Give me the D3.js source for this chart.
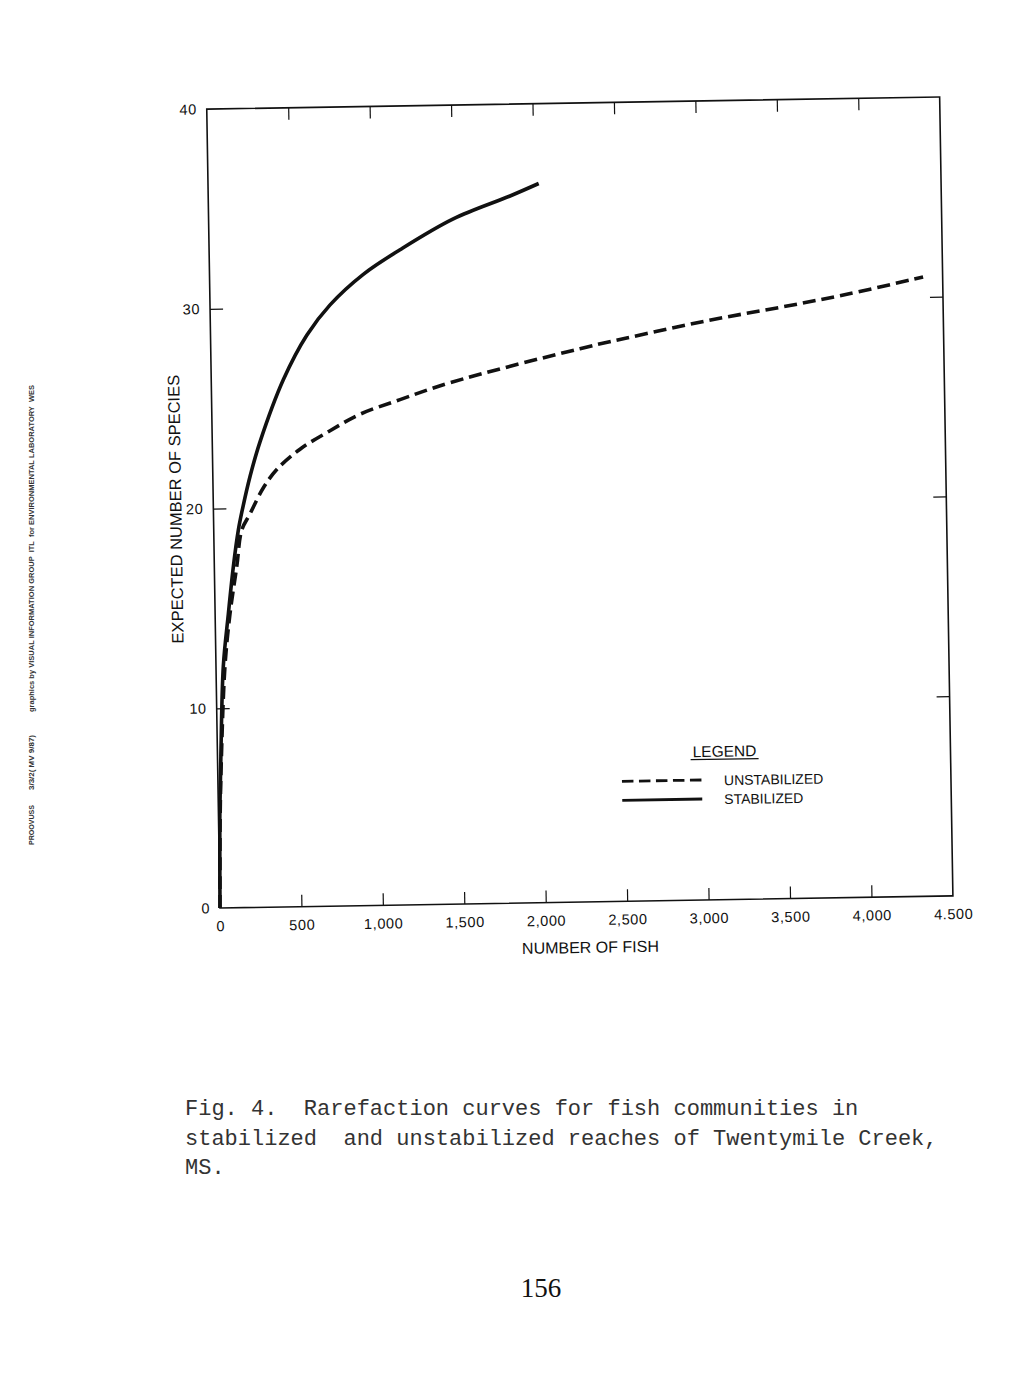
<!DOCTYPE html>
<html>
<head>
<meta charset="utf-8">
<script src="https://cdn.jsdelivr.net/npm/d3@7"></script>
<style>
  body { margin: 0; background: #fff; }
  svg { display: block; }
</style>
</head>
<body>
<div id="chart"></div>
<script>
// Rarefaction curves - Twentymile Creek, MS (Fig. 4)

// Axis ticks
const xTicks = [0, 500, 1000, 1500, 2000, 2500, 3000, 3500, 4000, 4500];
const xTickLabels = ["0", "500", "1,000", "1,500", "2,000", "2,500", "3,000", "3,500", "4,000", "4.500"];
const yTicks = [0, 10, 20, 30, 40];
const yTickLabels = ["0", "10", "20", "30", "40"];

// Stabilized reach (solid line)
const stabFish    = [0, 3, 8, 20, 45, 81, 117, 151, 180, 229, 293, 443, 591, 737, 944, 1172, 1502, 1853, 2030];
const stabSpecies = [0, 2, 4.5, 7.4, 12.1, 14.7, 17.1, 18.9, 20.0, 21.6, 23.3, 26.4, 28.6, 30.1, 31.6, 32.8, 34.3, 35.4, 36.0];

// Unstabilized reach (dashed line)
const unstabFish    = [0, 3, 10, 22, 55, 91, 138, 172, 224, 309, 393, 538, 724, 910, 1157, 1465, 2267, 2678, 3088, 3499, 3910, 4380];
const unstabSpecies = [0, 1.5, 4.5, 7.2, 12.1, 14.7, 17.1, 18.9, 19.7, 21.0, 21.9, 22.9, 23.8, 24.6, 25.3, 26.1, 27.7, 28.4, 29.05, 29.6, 30.2, 31.0];

const legendNames = ["UNSTABILIZED", "STABILIZED"];

const captionLines = [
    "Fig. 4.  Rarefaction curves for fish communities in",
    "stabilized  and unstabilized reaches of Twentymile Creek,",
    "MS."
];
const pageNumber = "156";

// Build series for drawing
const series = [
    {name: legendNames[0], dash: "13,6", points: unstabFish.map((f, i) => [f, unstabSpecies[i]])},
    {name: legendNames[1], dash: null, points: stabFish.map((f, i) => [f, stabSpecies[i]])}
];

const sans = "'Liberation Sans', Arial, Helvetica, sans-serif";

const svg = d3.select("#chart").append("svg")
    .attr("width", 1017)
    .attr("height", 1380);

svg.append("rect")
    .attr("width", 1017)
    .attr("height", 1380)
    .attr("fill", "#fff");

// Plot area (the scanned figure is tilted slightly)
const width = 733;
const height = 799;

const g = svg.append("g")
    .attr("transform", `translate(220,908) rotate(-0.95) translate(0,${-height})`);

const x = d3.scaleLinear().domain([0, 4500]).range([0, width]);
const y = d3.scaleLinear().domain([0, 40]).range([height, 0]);

// Bottom axis with labels, ticks pointing inward
const xAxisG = g.append("g")
    .attr("transform", `translate(0,${height})`)
    .call(d3.axisBottom(x)
        .tickValues(xTicks)
        .tickFormat((d, i) => xTickLabels[i])
        .tickSizeInner(-12)
        .tickSizeOuter(0)
        .tickPadding(13));

// Top axis, ticks only
const xTopG = g.append("g")
    .call(d3.axisTop(x)
        .tickValues(xTicks)
        .tickFormat("")
        .tickSizeInner(-12)
        .tickSizeOuter(0));

// Left axis with labels
const yAxisG = g.append("g")
    .call(d3.axisLeft(y)
        .tickValues(yTicks)
        .tickFormat((d, i) => yTickLabels[i])
        .tickSizeInner(-13)
        .tickSizeOuter(0)
        .tickPadding(10));

// Right axis, ticks only
const yRightG = g.append("g")
    .attr("transform", `translate(${width},0)`)
    .call(d3.axisRight(y)
        .tickValues(yTicks)
        .tickFormat("")
        .tickSizeInner(-13)
        .tickSizeOuter(0));

[xAxisG, xTopG, yAxisG, yRightG].forEach(a => {
    a.select(".domain").remove();
    a.selectAll(".tick line")
        .attr("stroke", "#111")
        .attr("stroke-width", 1.2);
    a.attr("font-family", sans)
        .attr("font-size", 14.5)
        .attr("letter-spacing", 0.6);
    a.selectAll(".tick text").attr("fill", "#111");
});

// Hide tick marks that fall on the frame corners
xAxisG.selectAll(".tick line").filter(d => d === 0 || d === 4500).remove();
xTopG.selectAll(".tick line").filter(d => d === 0 || d === 4500).remove();
yAxisG.selectAll(".tick line").filter(d => d === 0 || d === 40).remove();
yRightG.selectAll(".tick line").filter(d => d === 0 || d === 40).remove();

// Frame
g.append("rect")
    .attr("x", 0)
    .attr("y", 0)
    .attr("width", width)
    .attr("height", height)
    .attr("fill", "none")
    .attr("stroke", "#111")
    .attr("stroke-width", 1.6);

// Curves
const line = d3.line()
    .x(d => x(d[0]))
    .y(d => y(d[1]))
    .curve(d3.curveCatmullRom.alpha(0.5));

g.selectAll(".curve")
    .data(series)
    .join("path")
    .attr("class", "curve")
    .attr("d", d => line(d.points))
    .attr("fill", "none")
    .attr("stroke", "#111")
    .attr("stroke-width", 3.6)
    .attr("stroke-dasharray", d => d.dash);

// Axis titles
g.append("text")
    .attr("x", x(2270))
    .attr("y", height + 51)
    .attr("text-anchor", "middle")
    .attr("font-family", sans)
    .attr("font-size", 16)
    .attr("fill", "#111")
    .text("NUMBER OF FISH");

g.append("text")
    .attr("transform", `translate(-32,${y(20)}) rotate(-90)`)
    .attr("text-anchor", "middle")
    .attr("font-family", sans)
    .attr("font-size", 16.5)
    .attr("fill", "#111")
    .text("EXPECTED NUMBER OF SPECIES");

// Legend
const legend = g.append("g").attr("font-family", sans).attr("fill", "#111");

legend.append("text")
    .attr("x", 507)
    .attr("y", 656)
    .attr("text-anchor", "middle")
    .attr("font-size", 15.5)
    .text("LEGEND");

legend.append("line")
    .attr("x1", 473).attr("x2", 541)
    .attr("y1", 658.5).attr("y2", 658.5)
    .attr("stroke", "#111")
    .attr("stroke-width", 1.3);

const legendRows = legend.selectAll(".row")
    .data(series)
    .join("g")
    .attr("class", "row")
    .attr("transform", (d, i) => `translate(0,${679 + i * 19})`);

legendRows.append("line")
    .attr("x1", 404).attr("x2", 484)
    .attr("y1", 0).attr("y2", 0)
    .attr("stroke", "#111")
    .attr("stroke-width", 2.8)
    .attr("stroke-dasharray", d => d.dash ? "11.5,5.5" : null);

legendRows.append("text")
    .attr("x", 506)
    .attr("y", 5.5)
    .attr("font-size", 14)
    .text(d => d.name);

// Caption (typewriter text under the figure)
const caption = svg.append("g")
    .attr("font-family", "'Liberation Mono', 'Courier New', monospace")
    .attr("font-size", 22)
    .attr("fill", "#333");

caption.selectAll("text")
    .data(captionLines)
    .join("text")
    .attr("x", 185)
    .attr("y", (d, i) => 1115 + i * 29.5)
    .style("white-space", "pre")
    .text(d => d);

// Page number
svg.append("text")
    .attr("x", 541)
    .attr("y", 1297)
    .attr("text-anchor", "middle")
    .attr("font-family", "'Liberation Serif', 'Times New Roman', serif")
    .attr("font-size", 27)
    .attr("fill", "#111")
    .text(pageNumber);

// Margin production notes (rotated)
const notes = [
    {text: "graphics by VISUAL INFORMATION GROUP  ITL  for ENVIRONMENTAL LABORATORY  WES", y: 712, len: 327},
    {text: "3/3/2( MV 9/87)", y: 790, len: 55},
    {text: "PROOVUSS", y: 845, len: 40}
];

svg.append("g")
    .attr("font-family", sans)
    .attr("font-weight", "bold")
    .attr("font-size", 7.5)
    .attr("fill", "#333")
    .selectAll("text")
    .data(notes)
    .join("text")
    .attr("transform", d => `translate(34,${d.y}) rotate(-90)`)
    .attr("textLength", d => d.len)
    .attr("lengthAdjust", "spacingAndGlyphs")
    .style("white-space", "pre")
    .text(d => d.text);
</script>
</body>
</html>
